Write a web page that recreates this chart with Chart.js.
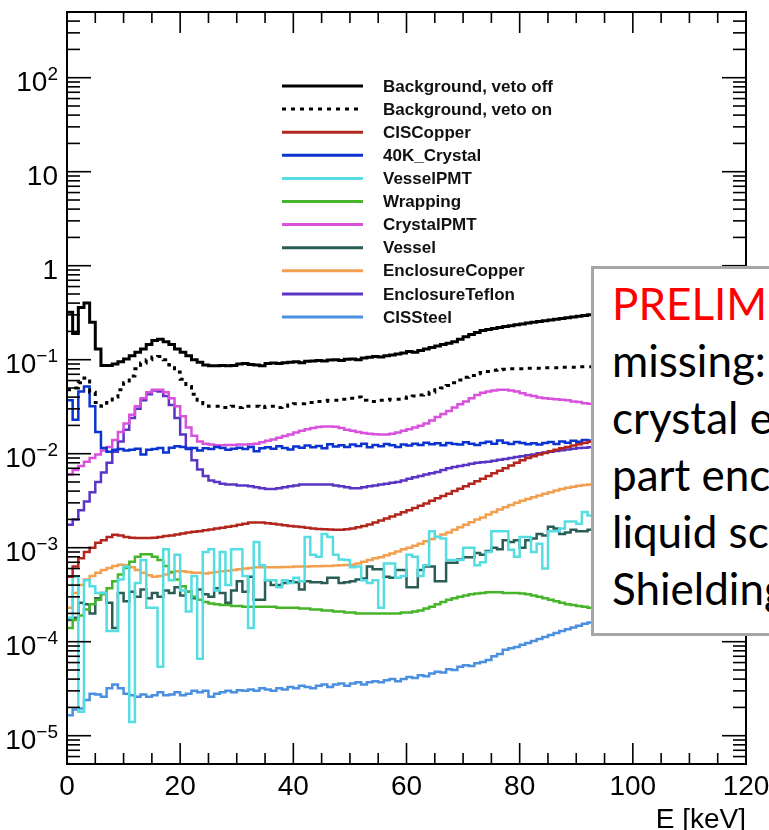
<!DOCTYPE html>
<html>
<head>
<meta charset="utf-8">
<title>Background spectrum</title>
<script src="https://cdn.jsdelivr.net/npm/chart.js@4.4.1/dist/chart.umd.min.js"></script>
<style>
    html, body { margin: 0; padding: 0; background: #fff; overflow: hidden; }
    #wrap { position: relative; width: 769px; height: 830px; overflow: hidden; }
    #note {
        position: absolute; left: 591px; top: 266px;
        width: 220px; height: 358px;
        border: 3px solid #a6a6a6; background: #fff;
        padding: 6px 0 0 18px;
        font-family: Lato, "Open Sans", sans-serif; font-size: 44px; line-height: 57px;
        white-space: nowrap; color: #000;
    }
    #note .red { color: #ff0000; }
</style>
</head>
<body>
<div id="wrap">
    <canvas id="spectrum" width="769" height="830"></canvas>
    <div id="note">
        <div class="red">PRELIMINARY</div>
        <div>missing:</div>
        <div>crystal encapsulation</div>
        <div>part enclosure</div>
        <div>liquid scintillator</div>
        <div>Shielding</div>
    </div>
</div>
<script>
// Histogram binning (keV), first bin edge and width
const E_FIRST = 0;
const BIN_WIDTH = 1;

// Axis ranges / ticks
const X_MIN = 0, X_MAX = 120, X_MAJOR = 20, X_MINOR = 5;
const X_TICK_LABELS = [0, 20, 40, 60, 80, 100, 120];
const Y_MIN = 5e-6, Y_MAX = 500;
const Y_DECADES = [-5, -4, -3, -2, -1, 0, 1, 2];

// Bin contents, one value per 1 keV bin (0 .. 92 keV)
const bgVetoOff = [
    0.32, 0.19, 0.36, 0.40, 0.25, 0.13, 0.087, 0.087, 0.09, 0.095,
    0.102, 0.11, 0.12, 0.13, 0.145, 0.16, 0.165, 0.155, 0.145, 0.13,
    0.12, 0.11, 0.1, 0.094, 0.088, 0.086, 0.086, 0.087, 0.086, 0.087,
    0.09, 0.091, 0.089, 0.088, 0.086, 0.091, 0.092, 0.091, 0.093, 0.094,
    0.095, 0.093, 0.096, 0.097, 0.098, 0.097, 0.099, 0.1, 0.098, 0.101,
    0.102, 0.1, 0.104, 0.106, 0.108, 0.107, 0.11, 0.112, 0.115, 0.118,
    0.122, 0.12, 0.125, 0.13, 0.135, 0.14, 0.145, 0.15, 0.155, 0.165,
    0.175, 0.185, 0.195, 0.205, 0.21, 0.215, 0.22, 0.225, 0.23, 0.235,
    0.24, 0.245, 0.25, 0.255, 0.26, 0.265, 0.27, 0.275, 0.28, 0.285,
    0.29, 0.295, 0.3
];
const bgVetoOn = [
    0.048, 0.05, 0.057, 0.064, 0.045, 0.035, 0.032, 0.035, 0.04, 0.048,
    0.057, 0.067, 0.08, 0.092, 0.1, 0.107, 0.108, 0.1, 0.088, 0.074,
    0.062, 0.052, 0.043, 0.037, 0.034, 0.032, 0.032, 0.031, 0.031, 0.032,
    0.031, 0.032, 0.032, 0.032, 0.031, 0.032, 0.032, 0.031, 0.032, 0.033,
    0.034, 0.034, 0.035, 0.035, 0.036, 0.036, 0.037, 0.037, 0.038, 0.038,
    0.039, 0.04, 0.037, 0.036, 0.036, 0.037, 0.037, 0.038, 0.038, 0.039,
    0.04, 0.041, 0.042, 0.043, 0.045, 0.048, 0.05, 0.053, 0.057, 0.061,
    0.065, 0.068, 0.071, 0.073, 0.075, 0.077, 0.078, 0.079, 0.08, 0.08,
    0.08, 0.081, 0.081, 0.081, 0.082, 0.082, 0.082, 0.083, 0.083, 0.083,
    0.084, 0.084, 0.084
];
const cisCopper = [
    4.9e-4, 6.3e-4, 7.7e-4, 9e-4, 1.0e-3, 1.13e-3, 1.2e-3, 1.3e-3, 1.37e-3, 1.35e-3,
    1.3e-3, 1.28e-3, 1.27e-3, 1.27e-3, 1.27e-3, 1.28e-3, 1.3e-3, 1.33e-3, 1.35e-3, 1.38e-3,
    1.42e-3, 1.45e-3, 1.48e-3, 1.5e-3, 1.53e-3, 1.56e-3, 1.6e-3, 1.63e-3, 1.67e-3, 1.7e-3,
    1.75e-3, 1.8e-3, 1.85e-3, 1.85e-3, 1.85e-3, 1.82e-3, 1.8e-3, 1.77e-3, 1.73e-3, 1.7e-3,
    1.68e-3, 1.66e-3, 1.63e-3, 1.6e-3, 1.58e-3, 1.57e-3, 1.56e-3, 1.55e-3, 1.55e-3, 1.57e-3,
    1.6e-3, 1.65e-3, 1.7e-3, 1.77e-3, 1.85e-3, 1.95e-3, 2.05e-3, 2.15e-3, 2.25e-3, 2.38e-3,
    2.5e-3, 2.65e-3, 2.8e-3, 2.95e-3, 3.15e-3, 3.35e-3, 3.55e-3, 3.75e-3, 4.0e-3, 4.25e-3,
    4.5e-3, 4.8e-3, 5.1e-3, 5.4e-3, 5.8e-3, 6.2e-3, 6.6e-3, 7.0e-3, 7.5e-3, 8.0e-3,
    8.5e-3, 9.0e-3, 9.4e-3, 9.8e-3, 0.0102, 0.0106, 0.011, 0.0114, 0.0118, 0.0122,
    0.0126, 0.013, 0.0134
];
const k40Crystal = [
    0.037, 0.023, 0.046, 0.052, 0.032, 0.017, 0.0115, 0.0105, 0.011, 0.0112,
    0.0108, 0.011, 0.0113, 0.0098, 0.011, 0.0112, 0.0115, 0.0103, 0.0116, 0.012,
    0.0118, 0.0112, 0.0115, 0.0108, 0.0114, 0.0112, 0.0118, 0.0115, 0.011, 0.0113,
    0.0116, 0.0112, 0.0118, 0.0106, 0.0114, 0.0117, 0.0113, 0.012, 0.0115, 0.0111,
    0.0119, 0.0116, 0.0122, 0.0117, 0.0121, 0.0114, 0.0126, 0.0119, 0.0123, 0.0118,
    0.0125, 0.0121, 0.0128, 0.0117, 0.0124, 0.012, 0.0127, 0.0123, 0.0118, 0.0125,
    0.0122, 0.0128, 0.0124, 0.0131, 0.0126, 0.0129, 0.0123, 0.013, 0.0127, 0.0125,
    0.0132, 0.0128, 0.0124, 0.013, 0.0134, 0.0128, 0.0138, 0.0131, 0.0127, 0.0133,
    0.013, 0.0126, 0.0129, 0.0125, 0.013, 0.0133, 0.0127, 0.0135, 0.0131, 0.0137,
    0.0134, 0.014, 0.0138
];
const vesselPmt = [
    1.8e-4, 4.9e-4, 1.8e-5, 4.5e-4, 3.9e-4, 3.3e-4, 3.3e-4, 1.3e-4, 1.3e-4, 4.6e-4,
    6.3e-4, 1.4e-5, 4.2e-4, 7.4e-4, 2.3e-4, 2.3e-4, 5.4e-5, 9.6e-4, 4.5e-4, 8.4e-4,
    3.5e-4, 2.1e-4, 5e-4, 6.6e-5, 9e-4, 9.6e-4, 3.5e-4, 9e-4, 4e-4, 9.6e-4,
    9.6e-4, 5e-4, 1.4e-4, 1.15e-3, 6.5e-4, 4.5e-4, 4.5e-4, 3.8e-4, 4.5e-4, 4.2e-4,
    4.8e-4, 4.4e-4, 1.3e-3, 8.4e-4, 8e-4, 1.4e-3, 1.3e-3, 8.4e-4, 7.5e-4, 7.4e-4,
    6.2e-4, 6.3e-4, 4.5e-4, 4.2e-4, 4.5e-4, 2.3e-4, 6.8e-4, 6.8e-4, 4.8e-4, 5e-4,
    8.4e-4, 8e-4, 5e-4, 6.5e-4, 1.5e-3, 1.3e-3, 1.25e-3, 7.4e-4, 7.4e-4, 7.4e-4,
    1e-3, 1e-3, 6.5e-4, 7e-4, 9e-4, 1.5e-3, 1.5e-3, 1.5e-3, 9.5e-4, 8e-4,
    1.3e-3, 1.3e-3, 9e-4, 1.1e-3, 6e-4, 1.5e-3, 1.5e-3, 1.6e-3, 1.9e-3, 1.9e-3,
    1.8e-3, 2.4e-3, 2.2e-3
];
const wrapping = [
    1.4e-4, 1.7e-4, 1.9e-4, 2.2e-4, 2.5e-4, 2.8e-4, 3.2e-4, 3.7e-4, 4.4e-4, 5.2e-4,
    6.1e-4, 7.1e-4, 8.0e-4, 8.5e-4, 8.5e-4, 8.0e-4, 7.4e-4, 6.4e-4, 5.5e-4, 4.6e-4,
    3.9e-4, 3.4e-4, 3.0e-4, 2.8e-4, 2.65e-4, 2.55e-4, 2.5e-4, 2.45e-4, 2.45e-4, 2.4e-4,
    2.4e-4, 2.35e-4, 2.35e-4, 2.35e-4, 2.35e-4, 2.35e-4, 2.35e-4, 2.3e-4, 2.3e-4, 2.3e-4,
    2.3e-4, 2.25e-4, 2.25e-4, 2.2e-4, 2.2e-4, 2.15e-4, 2.15e-4, 2.1e-4, 2.1e-4, 2.05e-4,
    2.05e-4, 2.0e-4, 2.0e-4, 2.0e-4, 2.0e-4, 2.0e-4, 2.0e-4, 2.0e-4, 2.0e-4, 2.05e-4,
    2.05e-4, 2.1e-4, 2.15e-4, 2.25e-4, 2.35e-4, 2.5e-4, 2.65e-4, 2.8e-4, 2.9e-4, 3.0e-4,
    3.1e-4, 3.2e-4, 3.25e-4, 3.3e-4, 3.35e-4, 3.35e-4, 3.35e-4, 3.3e-4, 3.3e-4, 3.3e-4,
    3.25e-4, 3.2e-4, 3.1e-4, 3.0e-4, 2.9e-4, 2.8e-4, 2.7e-4, 2.6e-4, 2.5e-4, 2.45e-4,
    2.4e-4, 2.35e-4, 2.3e-4
];
const crystalPmt = [
    0.006, 0.0067, 0.0074, 0.0082, 0.009, 0.0098, 0.0108, 0.0118, 0.014, 0.017,
    0.021, 0.026, 0.032, 0.039, 0.045, 0.048, 0.048, 0.045, 0.039, 0.032,
    0.025, 0.019, 0.0155, 0.0135, 0.0128, 0.0125, 0.0123, 0.0123, 0.0124, 0.0124,
    0.0125, 0.0125, 0.0126, 0.0128, 0.0132, 0.0137, 0.0142, 0.0148, 0.0154, 0.016,
    0.0168, 0.0175, 0.0182, 0.0188, 0.0192, 0.0195, 0.0195, 0.0193, 0.0188, 0.018,
    0.0175, 0.017, 0.0166, 0.0163, 0.0161, 0.016, 0.016, 0.0163, 0.0168, 0.0175,
    0.0182, 0.019, 0.0198, 0.021, 0.0225, 0.0245, 0.0265, 0.0285, 0.031, 0.0335,
    0.036, 0.039, 0.042, 0.0445, 0.046, 0.047, 0.048, 0.048, 0.047, 0.046,
    0.044, 0.042, 0.041, 0.0395, 0.039, 0.0385, 0.038, 0.0375, 0.037, 0.036,
    0.0355, 0.0345, 0.034
];
const vessel = [
    1.7e-4, 1.8e-4, 2.6e-4, 2.5e-4, 2.0e-4, 2.9e-4, 3.3e-4, 2.6e-4, 1.4e-4, 3.3e-4,
    2.7e-4, 3.4e-4, 3.0e-4, 3.6e-4, 2.9e-4, 3.3e-4, 3.0e-4, 3.5e-4, 3.3e-4, 3.8e-4,
    3.1e-4, 3.4e-4, 2.9e-4, 3.6e-4, 3.2e-4, 3.0e-4, 3.7e-4, 3.3e-4, 2.6e-4, 3.5e-4,
    4.4e-4, 3.4e-4, 4.9e-4, 2.8e-4, 2.8e-4, 4.5e-4, 4.0e-4, 4.0e-4, 4.2e-4, 4.4e-4,
    4.3e-4, 3.6e-4, 4.4e-4, 4.3e-4, 4.3e-4, 4.2e-4, 4.8e-4, 4.8e-4, 4.2e-4, 4.3e-4,
    4.4e-4, 4.6e-4, 4.7e-4, 6.3e-4, 5.9e-4, 5.9e-4, 4.9e-4, 4.8e-4, 5.8e-4, 5.8e-4,
    3.8e-4, 3.8e-4, 5.8e-4, 6.3e-4, 6.3e-4, 4.4e-4, 4.4e-4, 6.9e-4, 6.9e-4, 7.5e-4,
    7.9e-4, 7.9e-4, 8.8e-4, 8.4e-4, 9.2e-4, 1.0e-3, 9.6e-4, 1.2e-3, 1.15e-3, 1.2e-3,
    1.0e-3, 1.2e-3, 1.25e-3, 1.4e-3, 1.35e-3, 1.67e-3, 1.6e-3, 1.4e-3, 1.45e-3, 1.55e-3,
    1.5e-3, 1.5e-3, 1.55e-3
];
const enclosureCopper = [
    2.3e-4, 3.3e-4, 4.0e-4, 4.6e-4, 5.0e-4, 5.4e-4, 5.8e-4, 6.1e-4, 6.4e-4, 6.6e-4,
    6.5e-4, 6.2e-4, 5.8e-4, 5.4e-4, 5.1e-4, 4.9e-4, 5.0e-4, 5.2e-4, 5.4e-4, 5.6e-4,
    5.6e-4, 5.5e-4, 5.4e-4, 5.4e-4, 5.3e-4, 5.4e-4, 5.5e-4, 5.6e-4, 5.7e-4, 5.8e-4,
    5.9e-4, 6.0e-4, 6.1e-4, 6.2e-4, 6.2e-4, 6.2e-4, 6.2e-4, 6.2e-4, 6.25e-4, 6.25e-4,
    6.3e-4, 6.3e-4, 6.3e-4, 6.35e-4, 6.35e-4, 6.4e-4, 6.4e-4, 6.45e-4, 6.5e-4, 6.55e-4,
    6.6e-4, 6.8e-4, 7.1e-4, 7.4e-4, 7.7e-4, 7.9e-4, 8.3e-4, 8.7e-4, 9.1e-4, 9.6e-4,
    1.0e-3, 1.05e-3, 1.1e-3, 1.17e-3, 1.24e-3, 1.31e-3, 1.38e-3, 1.45e-3, 1.55e-3, 1.65e-3,
    1.75e-3, 1.87e-3, 2.0e-3, 2.1e-3, 2.25e-3, 2.4e-3, 2.55e-3, 2.7e-3, 2.85e-3, 3.0e-3,
    3.15e-3, 3.3e-3, 3.45e-3, 3.6e-3, 3.75e-3, 3.9e-3, 4.05e-3, 4.2e-3, 4.35e-3, 4.45e-3,
    4.55e-3, 4.65e-3, 4.7e-3
];
const enclosureTeflon = [
    1.75e-3, 2.0e-3, 2.5e-3, 3.1e-3, 3.9e-3, 5.0e-3, 6.3e-3, 8.0e-3, 0.0105, 0.0135,
    0.018, 0.024, 0.03, 0.037, 0.043, 0.047, 0.046, 0.041, 0.033, 0.024,
    0.016, 0.0115, 0.0085, 0.0068, 0.0058, 0.0052, 0.005, 0.0048, 0.0047, 0.0047,
    0.0046, 0.0046, 0.0045, 0.0044, 0.0043, 0.0042, 0.0042, 0.0043, 0.0044, 0.0045,
    0.0046, 0.0047, 0.0047, 0.0047, 0.0047, 0.0047, 0.0047, 0.0046, 0.0045, 0.0044,
    0.0043, 0.0043, 0.0044, 0.0045, 0.0046, 0.0047, 0.0048, 0.0049, 0.005, 0.0052,
    0.0054, 0.0056, 0.0058, 0.006, 0.0062, 0.0064, 0.0067, 0.007, 0.0072, 0.0074,
    0.0076, 0.0078, 0.008, 0.0081, 0.0082, 0.0084, 0.0086, 0.0088, 0.009, 0.0092,
    0.0094, 0.0096, 0.0098, 0.0101, 0.0103, 0.0105, 0.0107, 0.0109, 0.0111, 0.0113,
    0.0115, 0.0116, 0.0117
];
const cisSteel = [
    1.65e-5, 1.9e-5, 1.95e-5, 2.4e-5, 2.8e-5, 2.75e-5, 2.6e-5, 3.2e-5, 3.5e-5, 3.2e-5,
    2.8e-5, 2.7e-5, 2.6e-5, 2.75e-5, 2.6e-5, 2.7e-5, 2.9e-5, 2.7e-5, 2.75e-5, 2.9e-5,
    2.7e-5, 2.8e-5, 3.0e-5, 2.9e-5, 3.0e-5, 2.6e-5, 2.8e-5, 2.9e-5, 3.0e-5, 2.9e-5,
    3.05e-5, 3.0e-5, 3.1e-5, 3.0e-5, 3.2e-5, 3.1e-5, 3.0e-5, 3.2e-5, 3.1e-5, 3.3e-5,
    3.2e-5, 3.4e-5, 3.3e-5, 3.2e-5, 3.4e-5, 3.5e-5, 3.3e-5, 3.5e-5, 3.6e-5, 3.4e-5,
    3.6e-5, 3.7e-5, 3.5e-5, 3.7e-5, 3.8e-5, 3.7e-5, 3.9e-5, 4.0e-5, 3.8e-5, 4.0e-5,
    4.2e-5, 4.1e-5, 4.4e-5, 4.3e-5, 4.6e-5, 4.8e-5, 4.7e-5, 5.1e-5, 5.0e-5, 5.4e-5,
    5.6e-5, 5.5e-5, 5.9e-5, 6.1e-5, 6.4e-5, 7.0e-5, 7.4e-5, 8.2e-5, 8.5e-5, 8.8e-5,
    9.3e-5, 9.7e-5, 1.02e-4, 1.07e-4, 1.12e-4, 1.18e-4, 1.24e-4, 1.3e-4, 1.36e-4, 1.42e-4,
    1.48e-4, 1.55e-4, 1.6e-4
];

const SERIES = [
    { label: 'Background, veto off', values: bgVetoOff, color: '#000000', dash: [] },
    { label: 'Background, veto on', values: bgVetoOn, color: '#000000', dash: [4, 5] },
    { label: 'CISCopper', values: cisCopper, color: '#b3261e', dash: [] },
    { label: '40K_Crystal', values: k40Crystal, color: '#0b33d0', dash: [] },
    { label: 'VesselPMT', values: vesselPmt, color: '#55dde2', dash: [] },
    { label: 'Wrapping', values: wrapping, color: '#46b52a', dash: [] },
    { label: 'CrystalPMT', values: crystalPmt, color: '#d852dc', dash: [] },
    { label: 'Vessel', values: vessel, color: '#2b5d57', dash: [] },
    { label: 'EnclosureCopper', values: enclosureCopper, color: '#f2a050', dash: [] },
    { label: 'EnclosureTeflon', values: enclosureTeflon, color: '#5a34c4', dash: [] },
    { label: 'CISSteel', values: cisSteel, color: '#4a8fe0', dash: [] }
];

// Turn bin contents into step points: left edge of each bin + closing right edge
function histPoints(values) {
    const pts = values.map((v, i) => ({ x: E_FIRST + i * BIN_WIDTH, y: v }));
    pts.push({ x: E_FIRST + values.length * BIN_WIDTH, y: values[values.length - 1] });
    return pts;
}

const AXIS_FONT = '"Liberation Sans", Arial, Helvetica, sans-serif';

// ROOT-like frame: inward ticks on all four sides, labels, in-plot legend
const rootFrame = {
    id: 'rootFrame',
    afterDraw(chart) {
        const { ctx, chartArea: a, scales: { x, y } } = chart;
        ctx.save();
        ctx.strokeStyle = '#000';
        ctx.lineWidth = 2;
        ctx.strokeRect(a.left, a.top, a.right - a.left, a.bottom - a.top);

        const seg = (x1, y1, x2, y2) => {
            ctx.beginPath(); ctx.moveTo(x1, y1); ctx.lineTo(x2, y2); ctx.stroke();
        };
        ctx.lineWidth = 1.6;
        for (let e = X_MIN; e <= X_MAX; e += X_MINOR) {
            const px = x.getPixelForValue(e);
            const len = e % X_MAJOR === 0 ? 21 : 11;
            seg(px, a.bottom, px, a.bottom - len);
            seg(px, a.top, px, a.top + len);
        }
        for (let d = -6; d <= 3; d++) {
            for (let m = 1; m <= 9; m++) {
                const v = m * Math.pow(10, d);
                if (v < Y_MIN || v > Y_MAX) continue;
                const py = y.getPixelForValue(v);
                const len = m === 1 ? 24 : 13;
                seg(a.left, py, a.left + len, py);
                seg(a.right, py, a.right - len, py);
            }
        }

        // y labels with superscript exponents
        ctx.fillStyle = '#000';
        ctx.textBaseline = 'alphabetic';
        ctx.textAlign = 'right';
        const rightEdge = a.left - 9;
        Y_DECADES.forEach(d => {
            const py = y.getPixelForValue(Math.pow(10, d));
            let base = '10', exp = '';
            if (d === 0) base = '1';
            else if (d !== 1) exp = d < 0 ? '\u2212' + (-d) : String(d);
            let xr = rightEdge;
            if (exp) {
                ctx.font = '19px ' + AXIS_FONT;
                ctx.fillText(exp, xr, py + 2);
                xr -= ctx.measureText(exp).width;
            }
            ctx.font = '28px ' + AXIS_FONT;
            ctx.fillText(base, xr, py + 13);
        });

        // x labels and title
        ctx.textAlign = 'center';
        ctx.font = '28px ' + AXIS_FONT;
        X_TICK_LABELS.forEach(v => {
            ctx.fillText(String(v), x.getPixelForValue(v), a.bottom + 31);
        });
        ctx.textAlign = 'right';
        ctx.fillText('E [keV]', a.right, a.bottom + 64);

        // legend
        ctx.textAlign = 'left';
        ctx.textBaseline = 'middle';
        ctx.font = 'bold 17px ' + AXIS_FONT;
        chart.data.datasets.forEach((ds, i) => {
            const ly = 86 + i * 23.1;
            ctx.strokeStyle = ds.borderColor;
            ctx.lineWidth = 3;
            ctx.setLineDash(ds.borderDash || []);
            seg(282, ly, 363, ly);
            ctx.setLineDash([]);
            ctx.fillStyle = '#111';
            ctx.fillText(ds.label, 383, ly + 1);
        });
        ctx.restore();
    }
};

new Chart(document.getElementById('spectrum'), {
    type: 'line',
    data: {
        datasets: SERIES.map(s => ({
            label: s.label,
            data: histPoints(s.values),
            borderColor: s.color,
            borderDash: s.dash,
            borderWidth: s.label.startsWith('Background') ? 3 : 2.5,
            stepped: 'before',
            pointRadius: 0,
            fill: false,
            tension: 0
        }))
    },
    options: {
        responsive: false,
        animation: false,
        devicePixelRatio: 1,
        layout: { padding: { top: 12, right: 23, left: 0, bottom: 0 } },
        plugins: {
            legend: { display: false },
            tooltip: { enabled: false },
            title: { display: false }
        },
        scales: {
            x: {
                type: 'linear',
                min: X_MIN,
                max: X_MAX,
                grid: { display: false },
                border: { display: false },
                ticks: { display: false },
                afterFit: scale => { scale.height = 66; }
            },
            y: {
                type: 'logarithmic',
                min: Y_MIN,
                max: Y_MAX,
                grid: { display: false },
                border: { display: false },
                ticks: { display: false },
                afterFit: scale => { scale.width = 67; }
            }
        }
    },
    plugins: [rootFrame]
});
</script>
</body>
</html>
